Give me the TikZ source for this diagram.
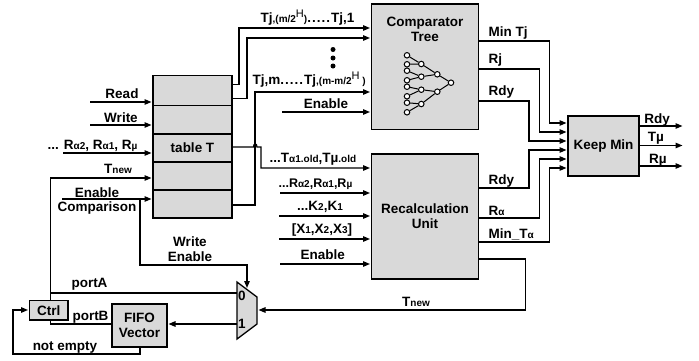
\documentclass[tikz,border=0pt]{standalone}
\usepackage{fontspec}
\setmainfont{Liberation Sans}
\usetikzlibrary{arrows.meta}
\definecolor{boxgray}{HTML}{D9D9D9}
\newcommand{\sm}[1]{{\fontsize{10}{10}\selectfont #1}}
\newcommand{\hh}{\raisebox{5pt}{\fontsize{11}{11}\selectfont\mdseries H}}
\newcommand{\dd}{.\kern1pt.\kern1pt.\kern1pt.\kern1pt.\kern1pt}
\begin{document}
\begin{tikzpicture}[x=1pt, y=-1pt, line width=1.3pt,
  box/.style={rectangle, draw, fill=boxgray, inner sep=0pt, outer sep=0pt, align=center, font=\fontsize{13.5}{15}\selectfont\bfseries},
  lbl/.style={inner sep=0pt, align=center, font=\fontsize{13.5}{15}\selectfont\bfseries},
  small/.style={inner sep=0pt, font=\fontsize{12.5}{14}\selectfont\bfseries},
  arr/.style={-{Triangle[length=7pt,width=5.5pt]}, shorten >=1.5pt},
  leaf/.style={circle, draw, fill=white, inner sep=0pt, minimum size=5.5pt, line width=1pt},
  dot/.style={circle, fill=black, inner sep=0pt, minimum size=5pt}]
\useasboundingbox (0,0) rectangle (699,360);

\node[box, minimum width=79pt, minimum height=30pt] (T0) at (192.5,90.5) {};
\node[box, minimum width=79pt, minimum height=28.5pt] (T1) at (192.5,119.75) {};
\node[box, minimum width=79pt, minimum height=28pt] (T2) at (192.5,148) {table T};
\node[box, minimum width=79pt, minimum height=28pt] (T3) at (192.5,176) {};
\node[box, minimum width=79pt, minimum height=28pt] (T4) at (192.5,204) {};
\node[box, minimum width=106.5pt, minimum height=125.5pt] (Cmp) at (425,66.75) {};
\node[box, minimum width=106.5pt, minimum height=125pt] (Rec) at (425,216.5) {Recalculation\\Unit};
\node[box, minimum width=71pt, minimum height=60pt] (Keep) at (603.5,146) {Keep Min};
\node[box, minimum width=38.5pt, minimum height=19.5pt] (Ctrl) at (48.75,310.25) {Ctrl};
\node[box, minimum width=55pt, minimum height=43pt] (Fifo) at (139.5,325.5) {FIFO\\Vector};

\coordinate (Mux0) at (237,282);
\coordinate (Mux1) at (257,297);
\coordinate (Mux2) at (257,324);
\coordinate (Mux3) at (237,339);
\draw[fill=boxgray] (Mux0) -- (Mux1) -- (Mux2) -- (Mux3) -- cycle;

\node[lbl] (Cname) at (425,29.5) {Comparator\\Tree};
\node[leaf] (L0) at (407,55.3) {};
\node[leaf] (L1) at (407,64.3) {};
\node[leaf] (L2) at (407,70.7) {};
\node[leaf] (L3) at (407,80.3) {};
\node[leaf] (L4) at (407,86.7) {};
\node[leaf] (L5) at (407,96.3) {};
\node[leaf] (L6) at (407,102.7) {};
\node[leaf] (L7) at (407,112.3) {};
\node[leaf] (M0) at (421.3,64) {};
\node[leaf] (M1) at (421.3,76.7) {};
\node[leaf] (M2) at (421.3,89.7) {};
\node[leaf] (M3) at (421.3,104) {};
\node[leaf] (S0) at (437.3,74.3) {};
\node[leaf] (S1) at (437.3,91.7) {};
\node[leaf] (R0) at (451,82.7) {};
\draw[line width=1pt] (L0) -- (M0);
\draw[line width=1pt] (L1) -- (M0);
\draw[line width=1pt] (L2) -- (M1);
\draw[line width=1pt] (L3) -- (M1);
\draw[line width=1pt] (L4) -- (M2);
\draw[line width=1pt] (L5) -- (M2);
\draw[line width=1pt] (L6) -- (M3);
\draw[line width=1pt] (L7) -- (M3);
\draw[line width=1pt] (M0) -- (S0);
\draw[line width=1pt] (M1) -- (S0);
\draw[line width=1pt] (M2) -- (S1);
\draw[line width=1pt] (M3) -- (S1);
\draw[line width=1pt] (S0) -- (R0);
\draw[line width=1pt] (S1) -- (R0);

\node[dot] (D0) at (333,49.5) {};
\node[dot] (D1) at (333,58) {};
\node[dot] (D2) at (333,66) {};

\coordinate (ReadIn) at (90,102);
\coordinate (WriteIn) at (90,125);
\coordinate (RegIn) at (63,153);
\coordinate (TnewIn) at (50.7,178);
\coordinate (EnIn) at (62,199);
\coordinate (EnBr) at (140,199);
\coordinate (OutA) at (232,84.5);
\coordinate (OutB) at (232,98.5);
\coordinate (OutC) at (232,205);
\coordinate (OutD) at (232,147);
\coordinate (HopA) at (253.5,147);
\coordinate (HopB) at (257,147);
\coordinate (HopC) at (261,147);
\coordinate (CmpA) at (371.5,28);
\coordinate (CmpB) at (371.5,38);
\coordinate (CmpC) at (371.5,92);
\coordinate (CmpD) at (371.5,112);
\coordinate (CmpE) at (282,112);
\coordinate (RecA) at (371.5,168);
\coordinate (RecB) at (371.5,193);
\coordinate (RecC) at (371.5,216);
\coordinate (RecD) at (371.5,239);
\coordinate (RecE) at (371.5,264);
\coordinate (RecBi) at (280,193);
\coordinate (RecCi) at (279,216);
\coordinate (RecDi) at (279,239);
\coordinate (RecEi) at (280,264);
\coordinate (MinOut) at (478,41);
\coordinate (RjOut) at (478,69);
\coordinate (RdyOut) at (478,101);
\coordinate (RdyRec) at (478,188);
\coordinate (RaRec) at (478,218);
\coordinate (MinRec) at (478,242);
\coordinate (TnewRec) at (478,259);
\coordinate (K0) at (568,123);
\coordinate (K1) at (568,132);
\coordinate (K2) at (568,141);
\coordinate (K3) at (568,150);
\coordinate (K4) at (568,159);
\coordinate (K5) at (568,168);
\coordinate (KA) at (639,126);
\coordinate (KB) at (639,145.5);
\coordinate (KC) at (639,166);
\coordinate (QA) at (684,126);
\coordinate (QB) at (684,145.5);
\coordinate (QC) at (684,166);
\coordinate (MuxA) at (237,293);
\coordinate (MuxB) at (237,324);
\coordinate (MuxS) at (247,289.5);
\coordinate (MuxE) at (257,310);
\coordinate (FifoB) at (167,324);
\coordinate (FifoN) at (140,347);
\coordinate (CtrlL) at (29.5,310);
\coordinate (CtrlB) at (50.7,320);
\coordinate (CtrlT) at (50.7,300.5);
\coordinate (CtrlP) at (50.7,293);
\coordinate (FifoL) at (112,324);

\draw[arr] (ReadIn) -- (ReadIn -| T0.west);
\draw[arr] (WriteIn) -- (WriteIn -| T1.west);
\draw[arr] (RegIn) -- (RegIn -| T2.west);
\draw[arr] (CtrlT) -- (TnewIn) -- (TnewIn -| T3.west);
\draw[arr] (EnIn) -- (EnIn -| T4.west);
\draw[arr] (EnBr) -- (140,265) -| (MuxS);
\draw[arr] (OutA) -- ++(7,0) |- (CmpA);
\draw[arr] (OutB) -- ++(15,0) |- (CmpB);
\draw[arr] (OutC) -- ++(23,0) |- (CmpC);
\draw[arr] (CmpE) -- (CmpD);
\draw[arr] (OutD) -- (HopA) .. controls (253.5,143) and (257,143) .. (HopB) -- (HopC) |- (RecA);
\draw[arr] (RecBi) -- (RecB);
\draw[arr] (RecCi) -- (RecC);
\draw[arr] (RecDi) -- (RecD);
\draw[arr] (RecEi) -- (RecE);
\draw[arr] (MinOut) -| (549.5,123) -- (K0);
\draw[arr] (RjOut) -| (539.5,132) -- (K1);
\draw[arr] (RdyOut) -| (529,141) -- (K2);
\draw[arr] (RdyRec) -| (529,150) -- (K3);
\draw[arr] (RaRec) -| (539.5,159) -- (K4);
\draw[arr] (MinRec) -| (549.5,168) -- (K5);
\draw[arr] (KA) -- (QA);
\draw[arr] (KB) -- (QB);
\draw[arr] (KC) -- (QC);
\draw[arr] (TnewRec) -| (525.5,310) -- (MuxE);
\draw (CtrlP) -- (MuxA);
\draw[arr] (MuxB) -- (FifoB);
\draw (CtrlB) |- (FifoL);
\draw[arr] (FifoN) |- (13,354) |- (CtrlL);

\node[lbl] (LRead) at (122,94) {Read};
\node[lbl] (LWrite) at (121,118) {Write};
\node[lbl] (LReg) at (92.5,146) {... R\sm{α2}, R\sm{α1}, R\sm{µ}};
\node[lbl] (LTnew) at (118,169) {T\sm{new}};
\node[lbl] (LEn) at (97,193) {Enable};
\node[lbl] (LComp) at (97,208) {Comparison};
\node[lbl] (LWe) at (190,249.5) {Write\\Enable};
\node[lbl] (LPa) at (89.5,284) {portA};
\node[lbl] (LPb) at (90.5,317) {portB};
\node[lbl] (LNe) at (65,347) {not empty};
\node[lbl] (LZero) at (242,296) {0};
\node[lbl] (LOne) at (242,324) {1};
\node[lbl] (LTn) at (416,302) {T\sm{new}};
\node[lbl, anchor=west] (LTa) at (260,18) {Tj\sm{,(m/2}\hh\sm{)}\dd Tj,1};
\node[lbl, anchor=west] (LTb) at (252,80) {Tj,m\dd Tj\sm{,(m-m/2}\hh\sm{ )}};
\node[lbl] (LEa) at (326,104) {Enable};
\node[lbl, anchor=west] (LOld) at (269,159) {...T\sm{α1.old},Tµ\sm{.old}};
\node[small, anchor=west] (LRr) at (278,184) {...R\sm{α2},R\sm{α1},R\sm{µ}};
\node[lbl] (LK) at (320,207) {...K\sm{2},K\sm{1}};
\node[lbl] (LX) at (322,230) {[X\sm{1},X\sm{2},X\sm{3}]};
\node[lbl] (LEb) at (322.7,255) {Enable};
\node[lbl, anchor=west] (LMin) at (488,33) {Min Tj};
\node[lbl, anchor=west] (LRj) at (488,60) {Rj};
\node[lbl, anchor=west] (LRd) at (488,91.7) {Rdy};
\node[lbl, anchor=west] (LRdr) at (488,181) {Rdy};
\node[lbl, anchor=west] (LRa) at (488,211) {R\sm{α}};
\node[lbl, anchor=west] (LMina) at (488,234) {Min\_T\sm{α}};
\node[lbl] (LQa) at (657,120) {Rdy};
\node[lbl] (LQb) at (656,138) {Tµ};
\node[lbl] (LQc) at (658,160) {Rµ};
\end{tikzpicture}
\end{document}
